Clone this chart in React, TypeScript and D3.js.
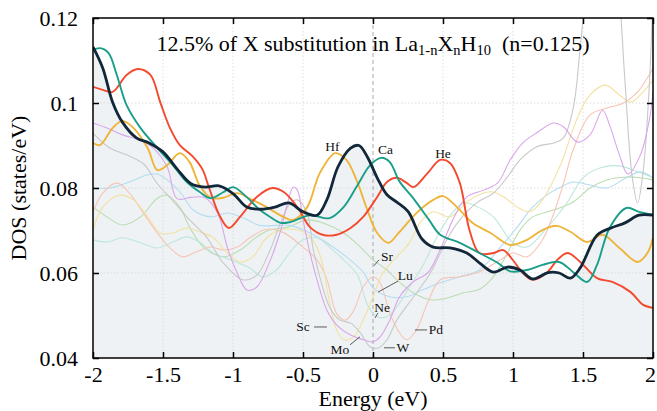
import { useEffect, useRef } from 'react';
import * as d3 from 'd3';

type Pt = [number, number];

// --- data: [energy (eV), DOS (states/eV)] ---
const laH10: Pt[] = [
  [-2.0, 0.1132], [-1.93, 0.1082], [-1.86, 0.1002], [-1.79, 0.0955], [-1.69, 0.0918], [-1.6, 0.0906],
  [-1.5, 0.0885], [-1.4, 0.0845], [-1.3, 0.081], [-1.2, 0.0802], [-1.1, 0.0805], [-1.0, 0.0787],
  [-0.9, 0.0755], [-0.8, 0.075], [-0.7, 0.0755], [-0.6, 0.0765], [-0.5, 0.0744], [-0.4, 0.0736],
  [-0.33, 0.0772], [-0.25, 0.085], [-0.16, 0.0894], [-0.1, 0.09], [-0.04, 0.0873], [0.03, 0.0824],
  [0.1, 0.0784], [0.17, 0.0767], [0.25, 0.0745], [0.35, 0.068], [0.43, 0.0661], [0.55, 0.0659],
  [0.67, 0.0647], [0.76, 0.0624], [0.86, 0.0602], [0.96, 0.0614], [1.05, 0.0607], [1.14, 0.0586],
  [1.25, 0.0601], [1.33, 0.06], [1.41, 0.0588], [1.48, 0.0612], [1.6, 0.0689], [1.7, 0.0706],
  [1.8, 0.0718], [1.9, 0.0736], [2.0, 0.0736],
];

const ca: Pt[] = [
  [-2.0, 0.1125], [-1.95, 0.1129], [-1.89, 0.1118], [-1.83, 0.1066], [-1.76, 0.0995], [-1.66, 0.0941],
  [-1.54, 0.0894], [-1.43, 0.0854], [-1.33, 0.0814], [-1.24, 0.0791], [-1.16, 0.0776], [-1.07, 0.079],
  [-1.0, 0.0802], [-0.9, 0.0778], [-0.82, 0.0752], [-0.74, 0.0733], [-0.66, 0.0718], [-0.59, 0.072],
  [-0.45, 0.0736], [-0.31, 0.0729], [-0.21, 0.0755], [-0.11, 0.0807], [-0.02, 0.0854], [0.06, 0.0871],
  [0.12, 0.0861], [0.19, 0.0815], [0.28, 0.0779], [0.4, 0.0725], [0.48, 0.069], [0.62, 0.0671],
  [0.76, 0.0647], [0.89, 0.0624], [0.98, 0.0604], [1.1, 0.0607], [1.21, 0.0619], [1.33, 0.0626],
  [1.43, 0.0602], [1.53, 0.0579], [1.6, 0.0619], [1.69, 0.0706], [1.81, 0.0753], [1.9, 0.0744],
  [2.0, 0.0737],
];

const he: Pt[] = [
  [-2.0, 0.1038], [-1.93, 0.1031], [-1.86, 0.1026], [-1.76, 0.1066], [-1.68, 0.108], [-1.59, 0.1066],
  [-1.52, 0.1002], [-1.45, 0.0941], [-1.38, 0.0901], [-1.29, 0.0875], [-1.22, 0.0845], [-1.17, 0.08],
  [-1.1, 0.0738], [-1.03, 0.0706], [-0.95, 0.0732], [-0.83, 0.0779], [-0.72, 0.08], [-0.64, 0.0791],
  [-0.54, 0.0755], [-0.45, 0.0708], [-0.36, 0.069], [-0.26, 0.069], [-0.16, 0.0706], [-0.07, 0.0732],
  [0.03, 0.0779], [0.1, 0.0814], [0.17, 0.0824], [0.24, 0.0812], [0.29, 0.0802], [0.39, 0.0835],
  [0.48, 0.0866], [0.55, 0.0859], [0.62, 0.0812], [0.69, 0.07], [0.76, 0.0647], [0.86, 0.0647],
  [0.93, 0.0654], [1.0, 0.063], [1.07, 0.06], [1.14, 0.0584], [1.24, 0.06], [1.32, 0.0632],
  [1.39, 0.0647], [1.48, 0.0626], [1.6, 0.0588], [1.71, 0.0579], [1.84, 0.0555], [1.93, 0.0525],
  [2.0, 0.0518],
];

const hf: Pt[] = [
  [-2.0, 0.0906], [-1.95, 0.0901], [-1.86, 0.0941], [-1.79, 0.0958], [-1.71, 0.0941], [-1.61, 0.0894],
  [-1.54, 0.0842], [-1.47, 0.0854], [-1.38, 0.0882], [-1.31, 0.0861], [-1.24, 0.0807], [-1.16, 0.0777],
  [-1.07, 0.0777], [-0.97, 0.0788], [-0.88, 0.0775], [-0.76, 0.0755], [-0.64, 0.0732], [-0.57, 0.0725],
  [-0.47, 0.0755], [-0.38, 0.0835], [-0.27, 0.0882], [-0.19, 0.0866], [-0.11, 0.0812], [-0.04, 0.0748],
  [0.03, 0.0694], [0.11, 0.0671], [0.19, 0.0697], [0.31, 0.0741], [0.43, 0.0772], [0.5, 0.0781],
  [0.6, 0.0755], [0.71, 0.0718], [0.84, 0.0694], [0.98, 0.0666], [1.1, 0.0678], [1.21, 0.0701],
  [1.31, 0.0711], [1.41, 0.0697], [1.53, 0.0673], [1.64, 0.069], [1.76, 0.0659], [1.89, 0.0626],
  [1.96, 0.0647], [2.0, 0.0683],
];

const sc: Pt[] = [
  [-2.0, 0.0701], [-1.93, 0.0755], [-1.81, 0.0783], [-1.71, 0.0772], [-1.61, 0.0732], [-1.52, 0.0694],
  [-1.43, 0.0694], [-1.33, 0.0706], [-1.24, 0.0697], [-1.14, 0.0683], [-1.04, 0.0647], [-0.95, 0.0626],
  [-0.86, 0.0638], [-0.76, 0.0683], [-0.66, 0.0701], [-0.54, 0.0701], [-0.45, 0.0685], [-0.4, 0.066],
  [-0.36, 0.062], [-0.31, 0.053], [-0.26, 0.0466], [-0.21, 0.0443], [-0.14, 0.0449], [-0.07, 0.0489],
  [0.0, 0.0544], [0.07, 0.06], [0.17, 0.0638], [0.26, 0.0671], [0.34, 0.072], [0.43, 0.0744],
  [0.55, 0.0732], [0.69, 0.0772], [0.84, 0.0791], [0.93, 0.078], [1.03, 0.0755], [1.12, 0.0744],
  [1.21, 0.0772], [1.34, 0.0855], [1.46, 0.0965], [1.55, 0.1019], [1.66, 0.1042], [1.76, 0.1019],
  [1.84, 0.1002], [1.93, 0.1026], [2.0, 0.1054],
];

const mo: Pt[] = [
  [-2.0, 0.0953], [-1.9, 0.0941], [-1.79, 0.0925], [-1.66, 0.0912], [-1.57, 0.0894], [-1.47, 0.085],
  [-1.4, 0.0775], [-1.3, 0.0778], [-1.2, 0.0777], [-1.11, 0.0741], [-1.04, 0.066], [-0.97, 0.06],
  [-0.9, 0.056], [-0.83, 0.0567], [-0.74, 0.0625], [-0.66, 0.07], [-0.61, 0.0765], [-0.57, 0.0802],
  [-0.54, 0.0795], [-0.5, 0.0725], [-0.45, 0.0647], [-0.4, 0.0584], [-0.33, 0.0513], [-0.26, 0.0478],
  [-0.16, 0.0454], [-0.07, 0.0443], [0.0, 0.0438], [0.05, 0.0449], [0.12, 0.0489], [0.19, 0.0544],
  [0.29, 0.058], [0.39, 0.06], [0.48, 0.0655], [0.57, 0.0725], [0.67, 0.0779], [0.79, 0.0795],
  [0.89, 0.0812], [0.98, 0.0866], [1.07, 0.0906], [1.17, 0.093], [1.29, 0.0953], [1.36, 0.0944],
  [1.46, 0.0908], [1.55, 0.0925], [1.64, 0.0983], [1.69, 0.0948], [1.76, 0.0878], [1.82, 0.0833],
  [1.91, 0.0878], [1.98, 0.0972], [2.0, 0.1026],
];

const w: Pt[] = [
  [-2.0, 0.0929], [-1.88, 0.0894], [-1.76, 0.0878], [-1.64, 0.0857], [-1.54, 0.081], [-1.43, 0.077],
  [-1.31, 0.0725], [-1.19, 0.0685], [-1.07, 0.0624], [-0.93, 0.0584], [-0.83, 0.0595], [-0.74, 0.065],
  [-0.66, 0.0718], [-0.59, 0.0765], [-0.54, 0.0772], [-0.47, 0.0741], [-0.43, 0.0661], [-0.38, 0.0591],
  [-0.31, 0.052], [-0.24, 0.049], [-0.16, 0.0482], [-0.09, 0.0459], [-0.02, 0.0426], [0.04, 0.0424],
  [0.1, 0.0443], [0.17, 0.0489], [0.29, 0.0544], [0.41, 0.06], [0.53, 0.068], [0.62, 0.0725],
  [0.74, 0.0765], [0.86, 0.0788], [0.96, 0.0826], [1.05, 0.0866], [1.17, 0.0897], [1.29, 0.0906],
  [1.36, 0.0918], [1.43, 0.0988], [1.48, 0.113], [1.53, 0.13], [1.6, 0.15], [1.68, 0.15],
  [1.75, 0.13], [1.8, 0.105], [1.85, 0.083], [1.89, 0.0765], [1.93, 0.084], [1.97, 0.102], [2.0, 0.125],
];

const pd: Pt[] = [
  [-2.0, 0.0744], [-1.93, 0.0788], [-1.83, 0.0812], [-1.74, 0.0788], [-1.64, 0.0741], [-1.54, 0.0694],
  [-1.45, 0.0659], [-1.36, 0.0638], [-1.26, 0.065], [-1.16, 0.0661], [-1.07, 0.0654], [-0.97, 0.0661],
  [-0.88, 0.0683], [-0.76, 0.0703], [-0.64, 0.0695], [-0.5, 0.0661], [-0.4, 0.0631], [-0.33, 0.0585],
  [-0.26, 0.0505], [-0.2, 0.0489], [-0.14, 0.051], [-0.07, 0.0567], [0.0, 0.0591], [0.05, 0.0577],
  [0.12, 0.0506], [0.19, 0.0459], [0.24, 0.0443], [0.31, 0.0466], [0.39, 0.053], [0.48, 0.0584],
  [0.62, 0.0591], [0.76, 0.0603], [0.91, 0.0631], [1.0, 0.0647], [1.1, 0.0638], [1.21, 0.0678],
  [1.28, 0.073], [1.36, 0.081], [1.43, 0.089], [1.55, 0.0972], [1.67, 0.0988], [1.79, 0.1],
  [1.89, 0.1026], [2.0, 0.1082],
];

const sr: Pt[] = [
  [-2.0, 0.0755], [-1.9, 0.0732], [-1.79, 0.0713], [-1.66, 0.0732], [-1.54, 0.0776], [-1.47, 0.0783],
  [-1.38, 0.0755], [-1.31, 0.0708], [-1.21, 0.0661], [-1.07, 0.0638], [-0.95, 0.0654], [-0.83, 0.0685],
  [-0.74, 0.0701], [-0.61, 0.0708], [-0.47, 0.0725], [-0.36, 0.0718], [-0.21, 0.0694], [-0.09, 0.0661],
  [0.0, 0.0631], [0.1, 0.0607], [0.17, 0.0584], [0.29, 0.0553], [0.41, 0.0537], [0.53, 0.0541],
  [0.64, 0.0553], [0.76, 0.0562], [0.86, 0.0591], [0.96, 0.0647], [1.05, 0.0701], [1.14, 0.0732],
  [1.29, 0.0748], [1.43, 0.0767], [1.55, 0.08], [1.67, 0.0819], [1.81, 0.0826], [1.91, 0.0824],
  [2.0, 0.0819],
];

const lu: Pt[] = [
  [-2.0, 0.08], [-1.88, 0.08], [-1.74, 0.0814], [-1.61, 0.0831], [-1.54, 0.0833], [-1.45, 0.0814],
  [-1.36, 0.0783], [-1.29, 0.075], [-1.16, 0.0732], [-1.04, 0.0741], [-0.93, 0.073], [-0.81, 0.0712],
  [-0.69, 0.0712], [-0.59, 0.0712], [-0.45, 0.0694], [-0.33, 0.0671], [-0.19, 0.0638], [-0.07, 0.0602],
  [0.0, 0.0565], [0.12, 0.0544], [0.24, 0.0544], [0.36, 0.0561], [0.48, 0.0577], [0.62, 0.0591],
  [0.76, 0.0607], [0.91, 0.0661], [1.03, 0.0708], [1.14, 0.0755], [1.26, 0.0788], [1.34, 0.0802],
  [1.43, 0.0814], [1.55, 0.0807], [1.67, 0.08], [1.81, 0.0824], [1.91, 0.0838], [2.0, 0.0824],
];

const ne: Pt[] = [
  [-2.0, 0.0678], [-1.9, 0.0673], [-1.79, 0.0683], [-1.66, 0.0671], [-1.54, 0.0659], [-1.43, 0.0673],
  [-1.33, 0.0685], [-1.24, 0.0673], [-1.14, 0.0647], [-1.02, 0.0631], [-0.88, 0.0612], [-0.79, 0.0591],
  [-0.69, 0.0607], [-0.59, 0.065], [-0.5, 0.0678], [-0.4, 0.0683], [-0.31, 0.0661], [-0.21, 0.0631],
  [-0.11, 0.0595], [-0.04, 0.0525], [0.03, 0.0497], [0.1, 0.0497], [0.17, 0.052], [0.26, 0.0567],
  [0.36, 0.062], [0.45, 0.068], [0.55, 0.0735], [0.65, 0.0765], [0.75, 0.0755], [0.86, 0.0732],
  [1.0, 0.0671], [1.1, 0.0661], [1.21, 0.0694], [1.34, 0.0745], [1.39, 0.0767], [1.5, 0.0824],
  [1.62, 0.0847], [1.76, 0.0852], [1.89, 0.0838], [2.0, 0.0824],
];

const xTicks = [-2, -1.5, -1, -0.5, 0, 0.5, 1, 1.5, 2];
const yTicks = [0.04, 0.06, 0.08, 0.1, 0.12];

const faint = [
  { name: 'Sr', color: '#bcdcb2', data: sr },
  { name: 'Lu', color: '#b4dcf2', data: lu },
  { name: 'Ne', color: '#bde7da', data: ne },
  { name: 'Pd', color: '#f7c5b6', data: pd },
  { name: 'Sc', color: '#f3e1a0', data: sc },
  { name: 'W', color: '#c8c8c8', data: w },
  { name: 'Mo', color: '#d9a6ea', data: mo },
];

const bold = [
  { name: 'Hf', color: '#efb43a', data: hf },
  { name: 'He', color: '#f4492d', data: he },
  { name: 'Ca', color: '#1a9e88', data: ca },
];

// label text position + optional pointer, in data units
const labels: { t: string; at: Pt; ptr?: [Pt, Pt] }[] = [
  { t: 'Hf', at: [-0.29, 0.0897] },
  { t: 'Ca', at: [0.09, 0.089] },
  { t: 'He', at: [0.5, 0.0882] },
  { t: 'Sr', at: [0.1, 0.064], ptr: [[0.043, 0.0631], [0.007, 0.0617]] },
  { t: 'Lu', at: [0.23, 0.0595], ptr: [[0.179, 0.0581], [0.036, 0.0555]] },
  { t: 'Ne', at: [0.065, 0.052], ptr: [[0.036, 0.0506], [0.014, 0.0494]] },
  { t: 'Sc', at: [-0.5, 0.0473], ptr: [[-0.421, 0.0473], [-0.329, 0.0473]] },
  { t: 'Mo', at: [-0.236, 0.0419], ptr: [[-0.164, 0.0431], [-0.093, 0.045]] },
  { t: 'W', at: [0.214, 0.0424], ptr: [[0.157, 0.0424], [0.079, 0.0424]] },
  { t: 'Pd', at: [0.45, 0.0466], ptr: [[0.386, 0.0466], [0.3, 0.0466]] },
];

const FONT = '"Liberation Serif", "DejaVu Serif", serif';

function DosChart() {
  const svgRef = useRef<SVGSVGElement>(null);

  useEffect(() => {
    const width = 657;
    const height = 411;
    const m = { left: 93, right: 4, top: 18, bottom: 53 };
    const svg = d3.select(svgRef.current);
    svg.selectAll('*').remove();
    svg.attr('width', width).attr('height', height);

    const x = d3.scaleLinear().domain([-2, 2]).range([m.left, width - m.right]);
    const y = d3.scaleLinear().domain([0.04, 0.12]).range([height - m.bottom, m.top]);

    svg.append('defs').append('clipPath').attr('id', 'plot-clip')
      .append('rect')
      .attr('x', m.left).attr('y', m.top)
      .attr('width', width - m.left - m.right).attr('height', height - m.top - m.bottom);

    const line = d3.line<Pt>()
      .x(d => x(d[0]))
      .y(d => y(d[1]))
      .curve(d3.curveCatmullRom.alpha(0.5));

    const area = d3.area<Pt>()
      .x(d => x(d[0]))
      .y0(y(0.04))
      .y1(d => y(d[1]))
      .curve(d3.curveCatmullRom.alpha(0.5));

    const plot = svg.append('g').attr('clip-path', 'url(#plot-clip)');

    // shaded DOS of the parent compound
    plot.append('path').attr('d', area(laH10)).attr('fill', '#eef2f4');

    // grid
    plot.selectAll('.gx').data(xTicks.filter(t => t !== 0 && t !== -2 && t !== 2)).join('line')
      .attr('x1', d => x(d)).attr('x2', d => x(d))
      .attr('y1', y(0.04)).attr('y2', y(0.12))
      .attr('stroke', '#d4d4d4').attr('stroke-width', 0.8).attr('stroke-dasharray', '1.5,2');
    plot.selectAll('.gy').data(yTicks.slice(1, -1)).join('line')
      .attr('x1', x(-2)).attr('x2', x(2))
      .attr('y1', d => y(d)).attr('y2', d => y(d))
      .attr('stroke', '#d4d4d4').attr('stroke-width', 0.8).attr('stroke-dasharray', '1.5,2');
    // Fermi level
    plot.append('line')
      .attr('x1', x(0)).attr('x2', x(0)).attr('y1', y(0.04)).attr('y2', y(0.12))
      .attr('stroke', '#a8a8a8').attr('stroke-width', 1).attr('stroke-dasharray', '4,3');

    faint.forEach(s => {
      plot.append('path').attr('d', line(s.data))
        .attr('fill', 'none').attr('stroke', s.color).attr('stroke-width', 1.1);
    });
    bold.forEach(s => {
      plot.append('path').attr('d', line(s.data))
        .attr('fill', 'none').attr('stroke', s.color).attr('stroke-width', 1.9);
    });
    plot.append('path').attr('d', line(laH10))
      .attr('fill', 'none').attr('stroke', '#12283a').attr('stroke-width', 2.8);

    // frame + inward ticks on all sides
    svg.append('rect')
      .attr('x', m.left).attr('y', m.top)
      .attr('width', width - m.left - m.right).attr('height', height - m.top - m.bottom)
      .attr('fill', 'none').attr('stroke', '#000').attr('stroke-width', 1.5);

    const styleAxis = (g: d3.Selection<SVGGElement, unknown, null, undefined>) => {
      g.select('.domain').remove();
      g.selectAll('line').attr('stroke', '#000').attr('stroke-width', 1.5);
      g.selectAll('text').attr('font-family', FONT).attr('font-size', 22).attr('fill', '#000');
    };

    const bottom = svg.append('g').attr('transform', `translate(0,${y(0.04)})`)
      .call(d3.axisBottom(x).tickValues(xTicks).tickSizeInner(-6).tickSizeOuter(0).tickPadding(8)
        .tickFormat(d => String(d)))
      .call(styleAxis);
    // keep the last label inside the page edge
    bottom.selectAll<SVGTextElement, number>('text').filter(d => d === 2).attr('dx', -3);

    svg.append('g').attr('transform', `translate(0,${y(0.12)})`)
      .call(d3.axisTop(x).tickValues(xTicks).tickSizeInner(-6).tickSizeOuter(0).tickFormat(() => ''))
      .call(styleAxis);
    svg.append('g').attr('transform', `translate(${x(-2)},0)`)
      .call(d3.axisLeft(y).tickValues(yTicks).tickSizeInner(-6).tickSizeOuter(0).tickPadding(15)
        .tickFormat(d => String(d)))
      .call(styleAxis);
    svg.append('g').attr('transform', `translate(${x(2)},0)`)
      .call(d3.axisRight(y).tickValues(yTicks).tickSizeInner(-6).tickSizeOuter(0).tickFormat(() => ''))
      .call(styleAxis);

    // axis titles
    svg.append('text')
      .attr('x', x(0)).attr('y', 406)
      .attr('text-anchor', 'middle')
      .attr('font-family', FONT).attr('font-size', 22)
      .text('Energy (eV)');
    svg.append('text')
      .attr('transform', `translate(26,${y(0.08)}) rotate(-90)`)
      .attr('text-anchor', 'middle')
      .attr('font-family', FONT).attr('font-size', 22)
      .text('DOS (states/eV)');

    // title with subscripts
    const title = svg.append('text')
      .attr('x', x(0)).attr('y', 51)
      .attr('text-anchor', 'middle')
      .attr('font-family', FONT).attr('font-size', 22);
    const part = (t: string, sub = false) => {
      title.append('tspan')
        .attr('font-size', sub ? 14.5 : 22)
        .attr('baseline-shift', sub ? '-25%' : null)
        .text(t);
    };
    part('12.5% of X substitution in La');
    part('1-n', true);
    part('X');
    part('n', true);
    part('H');
    part('10', true);
    part('\u00a0\u00a0(n=0.125)');

    // element labels
    labels.forEach(l => {
      if (l.ptr) {
        svg.append('line')
          .attr('x1', x(l.ptr[0][0])).attr('y1', y(l.ptr[0][1]))
          .attr('x2', x(l.ptr[1][0])).attr('y2', y(l.ptr[1][1]))
          .attr('stroke', '#333').attr('stroke-width', 0.8);
      }
      svg.append('text')
        .attr('x', x(l.at[0])).attr('y', y(l.at[1]))
        .attr('text-anchor', 'middle').attr('dominant-baseline', 'central')
        .attr('font-family', FONT).attr('font-size', 13.5).attr('fill', '#111')
        .text(l.t);
    });
  }, []);

  return <svg ref={svgRef} style={{ position: 'absolute', left: 0, top: 0 }}></svg>;
}

export default function App() {
  return <DosChart />;
}
